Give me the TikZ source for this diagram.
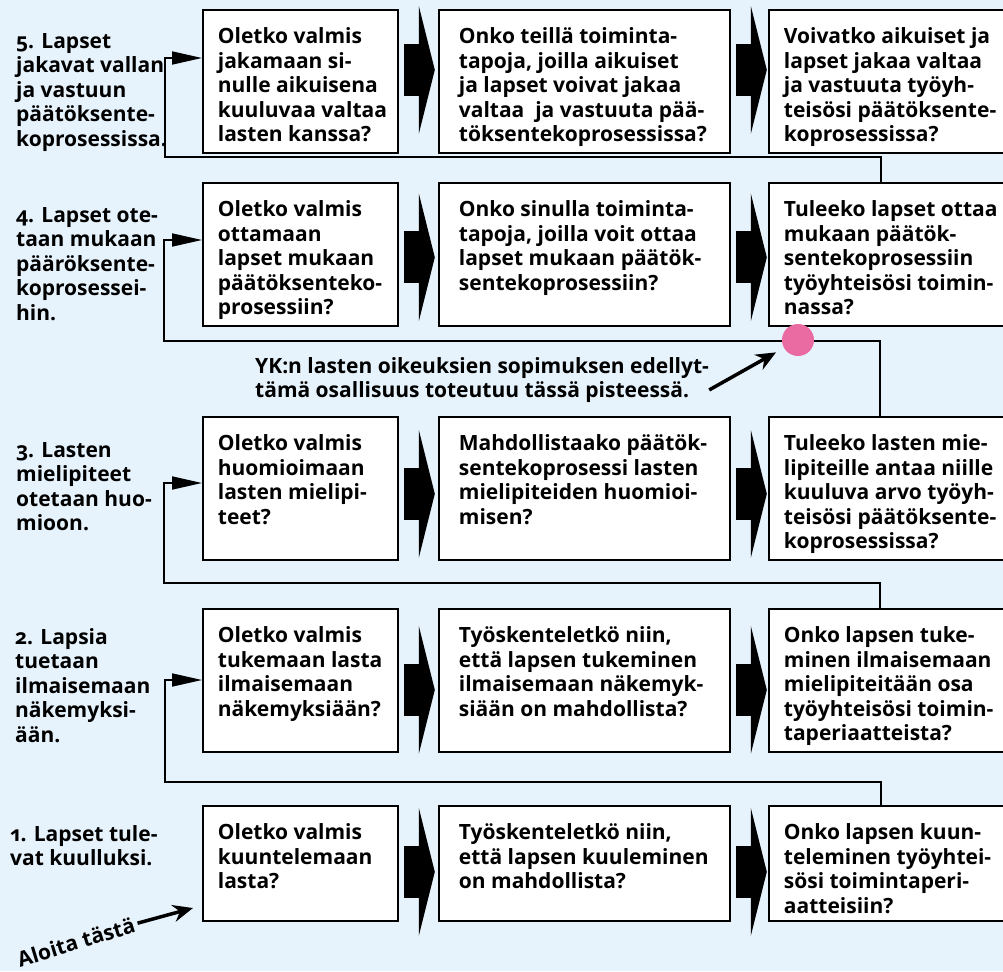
\documentclass[tikz,border=0pt]{standalone}
\usepackage{fontspec}
\setmainfont{Open Sans}[Numbers=OldStyle]
\usetikzlibrary{arrows.meta}
\definecolor{paleblue}{RGB}{231,243,252}
\definecolor{dotpink}{RGB}{234,107,162}
\newcommand{\qtext}[3]{\makebox[#2][l]{\parbox[t][#1][t]{400pt}{\raggedright #3}}}
\tikzset{
  qbox/.style={draw, fill=white, line width=1.8pt, anchor=north west, inner xsep=15pt, inner ysep=18pt},
  rowlabel/.style={anchor=north west, align=left, inner sep=0pt},
  backloop/.style={line width=1.8pt, -{Triangle[length=30pt,width=13pt]}},
  pointer/.style={line width=3.5pt, -{Stealth[length=20pt,width=17pt]}},
  chev/.pic={\fill (-15,-26) rectangle (0,26); \fill (0,-64) -- (16,0) -- (0,64) -- cycle;}
}

\begin{document}
\begin{tikzpicture}[x=1pt,y=-1pt,font=\bfseries\fontsize{21}{24.5}\selectfont]
  \useasboundingbox (0,0) rectangle (1003,971);
  \fill[paleblue] (0,0) rectangle (1003,971);

  % row 5
  \node[rowlabel] (l5) at (16,33) {5. Lapset\\jakavat vallan\\ja vastuun\\päätöksente-\\koprosessissa.};
  \node[qbox] (b51) at (202,9) {\qtext{107pt}{165pt}{Oletko valmis\\jakamaan si-\\nulle aikuisena\\kuuluvaa valtaa\\lasten kanssa?}};
  \node[qbox,inner xsep=20pt] (b52) at (438,9) {\qtext{107pt}{251pt}{Onko teillä toiminta-\\tapoja, joilla aikuiset\\ja lapset voivat jakaa\\valtaa ~ja vastuuta pää-\\töksentekoprosessissa?}};
  \node[qbox] (b53) at (768,9) {\qtext{107pt}{235pt}{Voivatko aikuiset ja\\lapset jakaa valtaa\\ja vastuuta työyh-\\teisösi päätöksente-\\koprosessissa?}};

  % row 4
  \node[rowlabel] (l4) at (16,207) {4. Lapset ote-\\taan mukaan\\pääröksente-\\koprosessei-\\hin.};
  \node[qbox] (b41) at (202,182) {\qtext{107pt}{165pt}{Oletko valmis\\ottamaan\\lapset mukaan\\päätöksenteko-\\prosessiin?}};
  \node[qbox,inner xsep=20pt] (b42) at (438,182) {\qtext{107pt}{251pt}{Onko sinulla toiminta-\\tapoja, joilla voit ottaa\\lapset mukaan päätök-\\sentekoprosessiin?}};
  \node[qbox] (b43) at (768,182) {\qtext{107pt}{235pt}{Tuleeko lapset ottaa\\mukaan päätök-\\sentekoprosessiin\\työyhteisösi toimin-\\nassa?}};

  % row 3
  \node[rowlabel] (l3) at (16,442) {3. Lasten\\mielipiteet\\otetaan huo-\\mioon.};
  \node[qbox] (b31) at (202,416) {\qtext{107pt}{165pt}{Oletko valmis\\huomioimaan\\lasten mielipi-\\teet?}};
  \node[qbox,inner xsep=20pt] (b32) at (438,416) {\qtext{107pt}{251pt}{Mahdollistaako päätök-\\sentekoprosessi lasten\\mielipiteiden huomioi-\\misen?}};
  \node[qbox] (b33) at (768,416) {\qtext{107pt}{235pt}{Tuleeko lasten mie-\\lipiteille antaa niille\\kuuluva arvo työyh-\\teisösi päätöksente-\\koprosessissa?}};

  % row 2
  \node[rowlabel] (l2) at (15,628) {2. Lapsia\\tuetaan\\ilmaisemaan\\näkemyksi-\\ään.};
  \node[qbox] (b21) at (202,608) {\qtext{107pt}{165pt}{Oletko valmis\\tukemaan lasta\\ilmaisemaan\\näkemyksiään?}};
  \node[qbox,inner xsep=20pt] (b22) at (438,608) {\qtext{107pt}{251pt}{Työskenteletkö niin,\\että lapsen tukeminen\\ilmaisemaan näkemyk-\\siään on mahdollista?}};
  \node[qbox] (b23) at (768,608) {\qtext{107pt}{235pt}{Onko lapsen tuke-\\minen ilmaisemaan\\mielipiteitään osa\\työyhteisösi toimin-\\taperiaatteista?}};

  % row 1
  \node[rowlabel] (l1) at (10,825) {1. Lapset tule-\\vat kuulluksi.};
  \node[qbox] (b11) at (202,805) {\qtext{79pt}{165pt}{Oletko valmis\\kuuntelemaan\\lasta?}};
  \node[qbox,inner xsep=20pt] (b12) at (438,805) {\qtext{79pt}{251pt}{Työskenteletkö niin,\\että lapsen kuuleminen\\on mahdollista?}};
  \node[qbox] (b13) at (768,805) {\qtext{79pt}{235pt}{Onko lapsen kuun-\\teleminen työyhtei-\\sösi toimintaperi-\\aatteisiin?}};

  % chevrons
  \pic at ([xshift=20pt,yshift=11.5pt]b51.east) {chev};
  \pic at ([xshift=20pt,yshift=11.5pt]b52.east) {chev};
  \pic at ([xshift=20pt,yshift=-3pt]b41.east) {chev};
  \pic at ([xshift=20pt,yshift=-3pt]b42.east) {chev};
  \pic at ([xshift=20pt,yshift=-5.5pt]b31.east) {chev};
  \pic at ([xshift=20pt,yshift=-5.5pt]b32.east) {chev};
  \pic at ([xshift=20pt,yshift=-9.5pt]b21.east) {chev};
  \pic at ([xshift=20pt,yshift=-9.5pt]b22.east) {chev};
  \pic at ([xshift=20pt,yshift=-8.5pt]b11.east) {chev};
  \pic at ([xshift=20pt,yshift=-8.5pt]b12.east) {chev};

  % back to the next step
  \draw[backloop] ([xshift=113pt]b43.north west) |- (165,157) |- (b51.west |- 0,58);
  \draw[backloop] ([xshift=112pt]b33.north west) |- (164,341) |- (b41.west |- 0,240);
  \draw[backloop] ([xshift=112pt]b23.north west) |- (164,583) |- (b31.west |- 0,483);
  \draw[backloop] ([xshift=113pt]b13.north west) |- (165,782) |- (b21.west |- 0,680);

  \node[circle, fill=dotpink, minimum size=32pt, inner sep=0pt] (dot) at (798,340) {};
  \node[rowlabel] (yk) at (255,357) {YK:n lasten oikeuksien sopimuksen edellyt-\\tämä osallisuus toteutuu tässä pisteessä.};
  \draw[pointer, shorten >=9pt] ([yshift=-10pt]yk.east) -- (dot);

  \node[rotate=17] (start) at (76,942) {Aloita tästä};
  \coordinate (aim) at (193,908);
  \draw[pointer] (start.east) -- (aim);
\end{tikzpicture}
\end{document}
